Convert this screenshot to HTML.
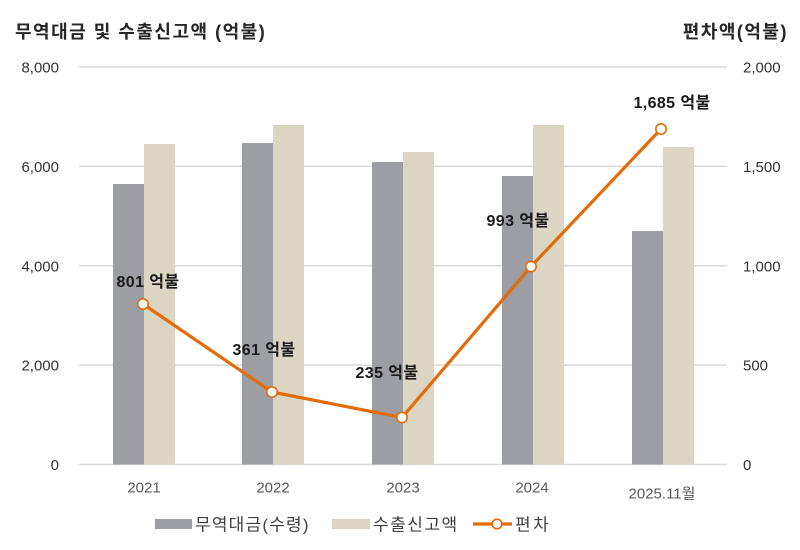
<!DOCTYPE html>
<html>
<head>
<meta charset="utf-8">
<style>
  html, body { margin:0; padding:0; background:#ffffff; }
  body { width:800px; height:545px; overflow:hidden; }
  svg text { font-family: "Liberation Sans", "Noto Sans CJK KR", sans-serif; }
</style>
</head>
<body>
<svg width="800" height="545" viewBox="0 0 800 545" xmlns="http://www.w3.org/2000/svg">
  <!-- titles -->
  <text x="15" y="38" font-size="18" font-weight="bold" fill="#262626" letter-spacing="1.5">무역대금 및 수출신고액 (억불)</text>
  <text x="788" y="38" font-size="18" font-weight="bold" fill="#262626" text-anchor="end" letter-spacing="1.5">편차액(억불)</text>

  <!-- gridlines -->
  <g stroke="#d9d9d9" stroke-width="1.5">
    <line x1="79" y1="67" x2="727" y2="67"/>
    <line x1="79" y1="166.4" x2="727" y2="166.4"/>
    <line x1="79" y1="265.8" x2="727" y2="265.8"/>
    <line x1="79" y1="365.1" x2="727" y2="365.1"/>
    <line x1="79" y1="464.5" x2="727" y2="464.5"/>
  </g>

  <!-- left axis ticks -->
  <g font-size="15" fill="#333333" text-anchor="end">
    <text x="59" y="72.5">8,000</text>
    <text x="59" y="171.9">6,000</text>
    <text x="59" y="271.3">4,000</text>
    <text x="59" y="370.6">2,000</text>
    <text x="59" y="470">0</text>
  </g>
  <!-- right axis ticks -->
  <g font-size="15" fill="#333333" text-anchor="start">
    <text x="743" y="72.5">2,000</text>
    <text x="743" y="171.9">1,500</text>
    <text x="743" y="271.3">1,000</text>
    <text x="743" y="370.6">500</text>
    <text x="743" y="470">0</text>
  </g>

  <!-- bars -->
  <g fill="#9d9ea3">
    <rect x="113" y="184" width="31" height="280.5"/>
    <rect x="242" y="143" width="31" height="321.5"/>
    <rect x="372" y="162" width="31" height="302.5"/>
    <rect x="502" y="176" width="31" height="288.5"/>
    <rect x="632" y="231" width="31" height="233.5"/>
  </g>
  <g fill="#dbd6c4">
    <rect x="144" y="144" width="31" height="320.5"/>
    <rect x="273" y="125" width="31" height="339.5"/>
    <rect x="403" y="152" width="31" height="312.5"/>
    <rect x="533" y="125" width="31" height="339.5"/>
    <rect x="663" y="147" width="31" height="317.5"/>
  </g>

  <!-- x labels -->
  <g font-size="15" fill="#595959" text-anchor="middle">
    <text x="144" y="492.5">2021</text>
    <text x="273" y="492.5">2022</text>
    <text x="403" y="492.5">2023</text>
    <text x="532" y="492.5">2024</text>
    <text x="662" y="498.5">2025.11월</text>
  </g>

  <!-- line series -->
  <polyline points="143,304 272,392 402,417.5 531,266.5 661,129" fill="none" stroke="#e36c09" stroke-width="3.2" stroke-linejoin="round"/>
  <g fill="#ffffff" stroke="#e36c09" stroke-width="1.6">
    <circle cx="143" cy="304" r="5.2"/>
    <circle cx="272" cy="392" r="5.2"/>
    <circle cx="402" cy="417.5" r="5.2"/>
    <circle cx="531" cy="266.5" r="5.2"/>
    <circle cx="661" cy="129" r="5.2"/>
  </g>

  <!-- data labels -->
  <g font-size="16" font-weight="bold" fill="#1a1a1a" text-anchor="middle" letter-spacing="0.4">
    <text x="148" y="287">801 억불</text>
    <text x="264" y="355">361 억불</text>
    <text x="387" y="378">235 억불</text>
    <text x="518" y="226">993 억불</text>
    <text x="672" y="108">1,685 억불</text>
  </g>

  <!-- legend -->
  <rect x="155" y="519" width="37" height="10" fill="#9d9ea3"/>
  <text x="195" y="530.5" font-size="17" fill="#404040" letter-spacing="1.2">무역대금(수령)</text>
  <rect x="332" y="519" width="38" height="10" fill="#dbd6c4"/>
  <text x="373" y="530.5" font-size="17" fill="#404040" letter-spacing="1.5">수출신고액</text>
  <line x1="473" y1="524" x2="512" y2="524" stroke="#e36c09" stroke-width="3.2"/>
  <circle cx="497" cy="524" r="4.8" fill="#ffffff" stroke="#e36c09" stroke-width="1.6"/>
  <text x="515" y="530.5" font-size="17" fill="#404040" letter-spacing="2.5">편차</text>
</svg>
</body>
</html>
